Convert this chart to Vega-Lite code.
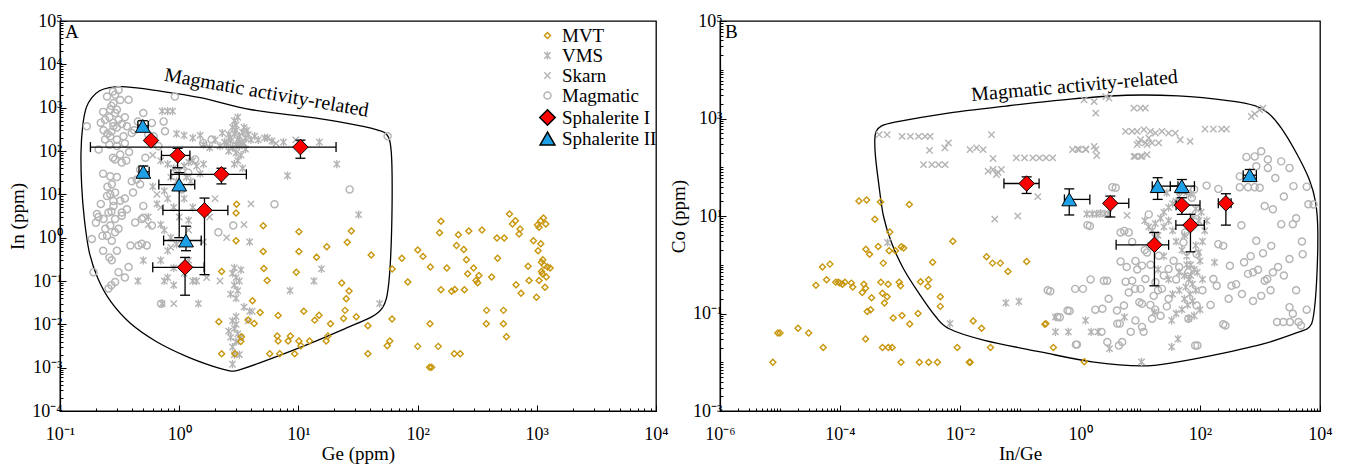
{
"$schema":"https://vega.github.io/schema/vega-lite/v6.json",
"background":"white",
"padding":{"left":8,"top":11,"right":4,"bottom":0},
"bounds":"flush",
"spacing":64,
"config":{
 "font":"Liberation Serif",
 "view":{"stroke":"black","strokeWidth":1.3},
 "axis":{"grid":false,"domainColor":"black","domainWidth":1.2,"tickColor":"black","tickWidth":1,"labelColor":"black","titleColor":"black","labelFont":"Liberation Serif","titleFont":"Liberation Serif","labelFontSize":18,"titleFontSize":19,"titleFontWeight":"normal","labelOverlap":false,"labelFlush":false,"labelBound":false}
},
"resolve":{"scale":{"shape":"independent","fill":"independent","stroke":"independent","size":"independent"}},
"datasets":{
"polyA":[{"o":1,"x":0.33,"y":3063},{"o":2,"x":0.26,"y":2900},{"o":3,"x":0.215,"y":2450},{"o":4,"x":0.185,"y":1700},{"o":5,"x":0.166,"y":1000},{"o":6,"x":0.155,"y":372},{"o":7,"x":0.15,"y":91},{"o":8,"x":0.152,"y":15.7},{"o":9,"x":0.16,"y":2.7},{"o":10,"x":0.176,"y":0.466},{"o":11,"x":0.208,"y":0.114},{"o":12,"x":0.267,"y":0.0333},{"o":13,"x":0.389,"y":0.0106},{"o":14,"x":0.641,"y":0.00403},{"o":15,"x":1.15,"y":0.00182},{"o":16,"x":1.9,"y":0.00108},{"o":17,"x":2.5,"y":0.00088},{"o":18,"x":2.81,"y":0.00083},{"o":19,"x":3.2,"y":0.00089},{"o":20,"x":4.74,"y":0.00129},{"o":21,"x":10.9,"y":0.0031},{"o":22,"x":25.1,"y":0.00815},{"o":23,"x":41.5,"y":0.0151},{"o":24,"x":50.3,"y":0.0234},{"o":25,"x":55.5,"y":0.0473},{"o":26,"x":58.9,"y":0.23},{"o":27,"x":60.9,"y":3.22},{"o":28,"x":60.9,"y":45},{"o":29,"x":58.9,"y":154},{"o":30,"x":54.6,"y":248},{"o":31,"x":47,"y":300},{"o":32,"x":35,"y":370},{"o":33,"x":15,"y":560},{"o":34,"x":4.05,"y":895},{"o":35,"x":1.5,"y":1700},{"o":36,"x":0.589,"y":2570},{"o":37,"x":0.42,"y":2900}],
"polyB":[{"o":1,"x":0.00038,"y":367},{"o":2,"x":0.0004,"y":543},{"o":3,"x":0.00048,"y":690},{"o":4,"x":0.00082,"y":840},{"o":5,"x":0.0053,"y":1250},{"o":6,"x":0.0585,"y":1800},{"o":7,"x":0.695,"y":2500},{"o":8,"x":5.94,"y":3000},{"o":9,"x":43.1,"y":2900},{"o":10,"x":313,"y":2300},{"o":11,"x":841,"y":1815},{"o":12,"x":1381,"y":1285},{"o":13,"x":2265,"y":635},{"o":14,"x":4036,"y":196},{"o":15,"x":6627,"y":56},{"o":16,"x":8480,"y":18.7},{"o":17,"x":9200,"y":4.57},{"o":18,"x":8760,"y":0.436},{"o":19,"x":7800,"y":0.091},{"o":20,"x":6627,"y":0.0526},{"o":21,"x":4385,"y":0.0416},{"o":22,"x":1170,"y":0.024},{"o":23,"x":224,"y":0.015},{"o":24,"x":43,"y":0.0102},{"o":25,"x":10.6,"y":0.0084},{"o":26,"x":1.59,"y":0.0102},{"o":27,"x":0.219,"y":0.0163},{"o":28,"x":0.0256,"y":0.0281},{"o":29,"x":0.0066,"y":0.0486},{"o":30,"x":0.0038,"y":0.091},{"o":31,"x":0.0021,"y":0.252},{"o":32,"x":0.00115,"y":0.817},{"o":33,"x":0.00072,"y":2.86},{"o":34,"x":0.00053,"y":10},{"o":35,"x":0.00044,"y":47.9},{"o":36,"x":0.00039,"y":167}],
"sA":[{"t":"Sphalerite I","x":0.58,"y":175},{"t":"Sphalerite I","x":0.97,"y":79,"xlo":0.71,"xhi":1.23,"ylo":41,"yhi":115},{"t":"Sphalerite I","x":10.4,"y":123,"xlo":0.18,"xhi":20.7,"ylo":68,"yhi":178},{"t":"Sphalerite I","x":2.26,"y":29,"xlo":0.85,"xhi":3.66,"ylo":17.4,"yhi":40},{"t":"Sphalerite I","x":1.63,"y":4.27,"xlo":0.73,"xhi":2.56,"ylo":0.14,"yhi":8.2},{"t":"Sphalerite I","x":1.12,"y":0.207,"xlo":0.6,"xhi":1.62,"ylo":0.047,"yhi":0.35},{"t":"Sphalerite II","x":0.495,"y":380,"xlo":0.45,"xhi":0.55,"ylo":300,"yhi":500},{"t":"Sphalerite II","x":0.5,"y":33,"xlo":0.46,"xhi":0.56,"ylo":26.6,"yhi":45},{"t":"Sphalerite II","x":1.0,"y":16.8,"xlo":0.675,"xhi":1.35,"ylo":1.0,"yhi":31.7},{"t":"Sphalerite II","x":1.14,"y":0.86,"xlo":0.74,"xhi":1.53,"ylo":0.5,"yhi":1.84}],
"sB":[{"t":"Sphalerite I","x":0.129,"y":46.4,"xlo":0.054,"xhi":0.208,"ylo":29,"yhi":63.5},{"t":"Sphalerite I","x":3.2,"y":18.2,"xlo":2.9,"xhi":6.5,"ylo":9.55,"yhi":25.6},{"t":"Sphalerite I","x":49.8,"y":16.7,"xlo":40,"xhi":100,"ylo":10.8,"yhi":23.7},{"t":"Sphalerite I","x":69.3,"y":6.5,"xlo":39.6,"xhi":118,"ylo":1.84,"yhi":10.8},{"t":"Sphalerite I","x":17.4,"y":2.56,"xlo":4.0,"xhi":30,"ylo":0.37,"yhi":4.6},{"t":"Sphalerite I","x":270,"y":18.2,"xlo":202,"xhi":330,"ylo":6.5,"yhi":28.6},{"t":"Sphalerite II","x":0.662,"y":21.9,"xlo":0.55,"xhi":1.46,"ylo":10.5,"yhi":36},{"t":"Sphalerite II","x":19.7,"y":41,"xlo":16,"xhi":43,"ylo":21.9,"yhi":61},{"t":"Sphalerite II","x":49.8,"y":41,"xlo":32,"xhi":80.8,"ylo":30,"yhi":56},{"t":"Sphalerite II","x":675,"y":68.7,"xlo":525,"xhi":870,"ylo":55,"yhi":90}],
"ptsA":[
{"t":"Magmatic","x":0.168,"y":371},{"t":"Magmatic","x":0.211,"y":108},{"t":"Magmatic","x":0.232,"y":300},{"t":"Magmatic","x":0.239,"y":525},{"t":"Magmatic","x":0.248,"y":1807},{"t":"Magmatic","x":0.278,"y":2355},{"t":"Magmatic","x":0.31,"y":2570},{"t":"Magmatic","x":0.281,"y":1275},{"t":"Magmatic","x":0.264,"y":895},{"t":"Magmatic","x":0.29,"y":751},{"t":"Magmatic","x":0.31,"y":525},{"t":"Magmatic","x":0.281,"y":371},{"t":"Magmatic","x":0.264,"y":218},{"t":"Magmatic","x":0.3,"y":184},{"t":"Magmatic","x":0.341,"y":218},{"t":"Magmatic","x":0.364,"y":371},{"t":"Magmatic","x":0.4,"y":261},{"t":"Magmatic","x":0.239,"y":184},{"t":"Magmatic","x":0.278,"y":70},{"t":"Magmatic","x":0.29,"y":64},{"t":"Magmatic","x":0.32,"y":83},{"t":"Magmatic","x":0.33,"y":54},{"t":"Magmatic","x":0.264,"y":26},{"t":"Magmatic","x":0.272,"y":17},{"t":"Magmatic","x":0.29,"y":11},{"t":"Magmatic","x":0.248,"y":9.2},{"t":"Magmatic","x":0.281,"y":5.4},{"t":"Magmatic","x":0.255,"y":3.8},{"t":"Magmatic","x":0.232,"y":2.7},{"t":"Magmatic","x":0.264,"y":1.9},{"t":"Magmatic","x":0.29,"y":1.33},{"t":"Magmatic","x":0.248,"y":1.11},{"t":"Magmatic","x":0.272,"y":0.85},{"t":"Magmatic","x":0.185,"y":0.93},{"t":"Magmatic","x":0.33,"y":3.2},{"t":"Magmatic","x":0.364,"y":4.5},{"t":"Magmatic","x":0.32,"y":7.1},{"t":"Magmatic","x":0.41,"y":11},{"t":"Magmatic","x":0.4,"y":20},{"t":"Magmatic","x":0.47,"y":17},{"t":"Magmatic","x":0.5,"y":2.9},{"t":"Magmatic","x":0.5,"y":5.4},{"t":"Magmatic","x":0.52,"y":70},{"t":"Magmatic","x":0.47,"y":37},{"t":"Magmatic","x":0.55,"y":240},{"t":"Magmatic","x":0.5,"y":751},{"t":"Magmatic","x":0.74,"y":482},{"t":"Magmatic","x":0.76,"y":284},{"t":"Magmatic","x":0.92,"y":1800},{"t":"Magmatic","x":0.376,"y":1517},{"t":"Magmatic","x":0.59,"y":1.9},{"t":"Magmatic","x":0.67,"y":129},{"t":"Magmatic","x":0.59,"y":444},{"t":"Magmatic","x":1.05,"y":13},{"t":"Magmatic","x":1.19,"y":31.6},{"t":"Magmatic","x":1.36,"y":64},{"t":"Magmatic","x":1.59,"y":154},{"t":"Magmatic","x":1.87,"y":184},{"t":"Magmatic","x":2.84,"y":1.9},{"t":"Magmatic","x":2.13,"y":1.33},{"t":"Magmatic","x":6.3,"y":5.9},{"t":"Magmatic","x":26.9,"y":13},{"t":"Magmatic","x":56,"y":218},{"t":"Magmatic","x":0.191,"y":0.16},{"t":"Magmatic","x":0.272,"y":0.3},{"t":"Magmatic","x":0.31,"y":0.16},{"t":"Magmatic","x":0.376,"y":0.21},{"t":"Magmatic","x":0.255,"y":0.067},{"t":"Magmatic","x":0.29,"y":0.095},{"t":"Magmatic","x":0.485,"y":0.72},{"t":"Magmatic","x":0.39,"y":0.66},{"t":"Magmatic","x":0.61,"y":218},{"t":"Magmatic","x":0.44,"y":22},{"t":"Magmatic","x":0.204,"y":3.5},{"t":"Magmatic","x":0.264,"y":10},{"t":"Magmatic","x":0.29,"y":2.7},{"t":"Magmatic","x":0.33,"y":3.8},{"t":"Magmatic","x":0.227,"y":1.1},{"t":"Magmatic","x":0.427,"y":2.25},{"t":"Magmatic","x":0.485,"y":2.7},{"t":"Magmatic","x":0.27,"y":0.08},{"t":"Magmatic","x":0.455,"y":0.66},{"t":"Magmatic","x":0.535,"y":0.66},{"t":"Magmatic","x":0.705,"y":0.03},{"t":"Magmatic","x":0.26,"y":600},{"t":"Magmatic","x":0.28,"y":450},{"t":"Magmatic","x":0.3,"y":350},{"t":"Magmatic","x":0.27,"y":280},{"t":"Magmatic","x":0.25,"y":250},{"t":"Magmatic","x":0.33,"y":420},{"t":"Magmatic","x":0.35,"y":600},{"t":"Magmatic","x":0.3,"y":900},{"t":"Magmatic","x":0.27,"y":1100},{"t":"Magmatic","x":0.32,"y":1500},{"t":"Magmatic","x":0.23,"y":800},{"t":"Magmatic","x":0.26,"y":140},{"t":"Magmatic","x":0.3,"y":130},{"t":"Magmatic","x":0.35,"y":150},{"t":"Magmatic","x":0.22,"y":450},{"t":"Magmatic","x":0.29,"y":2000},{"t":"Magmatic","x":0.45,"y":480},{"t":"Magmatic","x":0.42,"y":300},{"t":"Magmatic","x":0.38,"y":95},{"t":"Magmatic","x":0.36,"y":60},{"t":"Magmatic","x":0.23,"y":30},{"t":"Magmatic","x":0.25,"y":15},{"t":"Magmatic","x":0.3,"y":25},{"t":"Magmatic","x":0.35,"y":8},{"t":"Magmatic","x":0.22,"y":6},{"t":"Magmatic","x":0.27,"y":4},{"t":"Magmatic","x":0.31,"y":1.6},{"t":"Magmatic","x":0.23,"y":0.5},{"t":"Magmatic","x":0.26,"y":0.35},{"t":"Magmatic","x":0.3,"y":0.5},{"t":"Magmatic","x":0.35,"y":0.12},{"t":"Magmatic","x":0.24,"y":1.6},{"t":"Magmatic","x":0.2,"y":2.2},{"t":"Magmatic","x":0.21,"y":3},{"t":"Magmatic","x":0.28,"y":7},
{"t":"VMS","x":2.5,"y":150},{"t":"VMS","x":2.7,"y":200},{"t":"VMS","x":2.9,"y":250},{"t":"VMS","x":3.0,"y":300},{"t":"VMS","x":3.1,"y":180},{"t":"VMS","x":3.2,"y":220},{"t":"VMS","x":3.3,"y":160},{"t":"VMS","x":2.8,"y":120},{"t":"VMS","x":2.6,"y":100},{"t":"VMS","x":3.0,"y":90},{"t":"VMS","x":3.2,"y":130},{"t":"VMS","x":3.4,"y":270},{"t":"VMS","x":3.5,"y":350},{"t":"VMS","x":3.0,"y":400},{"t":"VMS","x":2.9,"y":500},{"t":"VMS","x":3.1,"y":600},{"t":"VMS","x":2.8,"y":350},{"t":"VMS","x":3.6,"y":200},{"t":"VMS","x":3.8,"y":240},{"t":"VMS","x":4.0,"y":180},{"t":"VMS","x":4.3,"y":220},{"t":"VMS","x":2.4,"y":160},{"t":"VMS","x":2.2,"y":130},{"t":"VMS","x":2.0,"y":180},{"t":"VMS","x":1.8,"y":120},{"t":"VMS","x":1.6,"y":140},{"t":"VMS","x":3.3,"y":80},{"t":"VMS","x":3.1,"y":60},{"t":"VMS","x":2.9,"y":50},{"t":"VMS","x":3.4,"y":40},{"t":"VMS","x":3.6,"y":110},{"t":"VMS","x":4.6,"y":180},{"t":"VMS","x":5.2,"y":200},{"t":"VMS","x":6.0,"y":170},{"t":"VMS","x":2.6,"y":240},{"t":"VMS","x":3.7,"y":300},{"t":"VMS","x":2.3,"y":260},{"t":"VMS","x":3.0,"y":140},{"t":"VMS","x":2.7,"y":170},{"t":"VMS","x":3.5,"y":150},
{"t":"VMS","x":0.7,"y":60},{"t":"VMS","x":0.8,"y":50},{"t":"VMS","x":0.9,"y":40},{"t":"VMS","x":1.0,"y":35},{"t":"VMS","x":1.1,"y":45},{"t":"VMS","x":1.2,"y":55},{"t":"VMS","x":0.85,"y":25},{"t":"VMS","x":0.95,"y":20},{"t":"VMS","x":1.05,"y":15},{"t":"VMS","x":1.15,"y":25},{"t":"VMS","x":0.75,"y":12},{"t":"VMS","x":0.8,"y":8},{"t":"VMS","x":0.9,"y":5},{"t":"VMS","x":1.0,"y":3},{"t":"VMS","x":0.7,"y":2},{"t":"VMS","x":0.75,"y":1.5},{"t":"VMS","x":0.85,"y":1.0},{"t":"VMS","x":0.95,"y":0.7},{"t":"VMS","x":0.8,"y":0.5},{"t":"VMS","x":0.7,"y":0.3},{"t":"VMS","x":0.9,"y":0.2},{"t":"VMS","x":0.8,"y":0.12},{"t":"VMS","x":0.75,"y":0.1},{"t":"VMS","x":1.3,"y":60},{"t":"VMS","x":1.4,"y":45},{"t":"VMS","x":1.5,"y":30},{"t":"VMS","x":1.25,"y":20},{"t":"VMS","x":1.6,"y":50},{"t":"VMS","x":1.1,"y":8},{"t":"VMS","x":1.3,"y":5},{"t":"VMS","x":0.65,"y":6},{"t":"VMS","x":0.6,"y":15},{"t":"VMS","x":1.2,"y":2.5},{"t":"VMS","x":1.1,"y":0.15},{"t":"VMS","x":1.3,"y":0.1},{"t":"VMS","x":1.4,"y":0.1},{"t":"VMS","x":1.2,"y":0.3},{"t":"VMS","x":0.9,"y":0.08},{"t":"VMS","x":0.72,"y":0.03},{"t":"VMS","x":1.45,"y":0.03},
{"t":"VMS","x":2.8,"y":0.15},{"t":"VMS","x":3.0,"y":0.12},{"t":"VMS","x":3.2,"y":0.1},{"t":"VMS","x":2.9,"y":0.08},{"t":"VMS","x":3.1,"y":0.06},{"t":"VMS","x":2.7,"y":0.05},{"t":"VMS","x":3.0,"y":0.04},{"t":"VMS","x":3.3,"y":0.18},{"t":"VMS","x":2.9,"y":0.2},{"t":"VMS","x":2.8,"y":0.012},{"t":"VMS","x":3.0,"y":0.01},{"t":"VMS","x":2.9,"y":0.008},{"t":"VMS","x":3.1,"y":0.006},{"t":"VMS","x":2.7,"y":0.005},{"t":"VMS","x":3.0,"y":0.004},{"t":"VMS","x":2.8,"y":0.003},{"t":"VMS","x":2.9,"y":0.002},{"t":"VMS","x":3.2,"y":0.002},{"t":"VMS","x":3.3,"y":0.005},{"t":"VMS","x":2.6,"y":0.007},{"t":"VMS","x":3.0,"y":0.015},{"t":"VMS","x":2.8,"y":0.0012},{"t":"VMS","x":3.5,"y":0.025},{"t":"VMS","x":3.9,"y":0.02},
{"t":"VMS","x":0.72,"y":830},{"t":"VMS","x":0.8,"y":830},{"t":"VMS","x":0.88,"y":830},{"t":"VMS","x":0.95,"y":250},{"t":"VMS","x":1.1,"y":230},{"t":"VMS","x":1.3,"y":200},{"t":"VMS","x":1.5,"y":230},{"t":"VMS","x":8.1,"y":27},{"t":"VMS","x":21,"y":50},{"t":"VMS","x":15,"y":160},{"t":"VMS","x":32,"y":3.4},{"t":"VMS","x":15.6,"y":0.19},{"t":"VMS","x":13.5,"y":0.1},{"t":"VMS","x":8.5,"y":0.06},{"t":"VMS","x":3.9,"y":0.8},{"t":"VMS","x":48,"y":0.03},{"t":"VMS","x":5.5,"y":200},{"t":"VMS","x":7.5,"y":160},{"t":"VMS","x":10.5,"y":150},{"t":"VMS","x":0.55,"y":3},{"t":"VMS","x":0.5,"y":0.3},{"t":"VMS","x":0.45,"y":0.1},
{"t":"Skarn","x":0.6,"y":80},{"t":"Skarn","x":0.65,"y":10},{"t":"Skarn","x":0.7,"y":5},{"t":"Skarn","x":0.55,"y":2},{"t":"Skarn","x":1.2,"y":1.5},{"t":"Skarn","x":1.6,"y":0.8},{"t":"Skarn","x":1.8,"y":3},{"t":"Skarn","x":2.0,"y":8},{"t":"Skarn","x":0.5,"y":40},{"t":"Skarn","x":4.0,"y":6},{"t":"Skarn","x":3.5,"y":2},{"t":"Skarn","x":4.1,"y":0.02},{"t":"Skarn","x":3.8,"y":0.012},{"t":"Skarn","x":1.1,"y":0.9},{"t":"Skarn","x":0.85,"y":0.6},{"t":"Skarn","x":2.2,"y":0.1},{"t":"Skarn","x":2.5,"y":1},{"t":"Skarn","x":0.9,"y":0.03},{"t":"Skarn","x":1.7,"y":0.12},{"t":"Skarn","x":6.5,"y":150},{"t":"Skarn","x":9.5,"y":180},
{"t":"MVT","x":3.03,"y":5.9},{"t":"MVT","x":3.0,"y":3.7},{"t":"MVT","x":5.07,"y":1.88},{"t":"MVT","x":10.1,"y":1.37},{"t":"MVT","x":3.0,"y":0.85},{"t":"MVT","x":5.07,"y":0.48},{"t":"MVT","x":10.1,"y":0.48},{"t":"MVT","x":27.8,"y":1.43},{"t":"MVT","x":25.7,"y":0.78},{"t":"MVT","x":17.3,"y":0.62},{"t":"MVT","x":14.2,"y":0.355},{"t":"MVT","x":40.8,"y":0.4},{"t":"MVT","x":5.13,"y":0.195},{"t":"MVT","x":9.6,"y":0.16},{"t":"MVT","x":2.27,"y":0.166},{"t":"MVT","x":5.47,"y":0.103},{"t":"MVT","x":23.1,"y":0.09},{"t":"MVT","x":26.6,"y":0.059},{"t":"MVT","x":25.2,"y":0.039},{"t":"MVT","x":24.6,"y":0.021},{"t":"MVT","x":23.9,"y":0.0137},{"t":"MVT","x":30.6,"y":0.0149},{"t":"MVT","x":4.12,"y":0.035},{"t":"MVT","x":4.78,"y":0.0188},{"t":"MVT","x":6.76,"y":0.016},{"t":"MVT","x":11.1,"y":0.02},{"t":"MVT","x":13.7,"y":0.0125},{"t":"MVT","x":14.9,"y":0.0163},{"t":"MVT","x":18.6,"y":0.0103},{"t":"MVT","x":2.15,"y":0.0115},{"t":"MVT","x":4.26,"y":0.0105},{"t":"MVT","x":3.79,"y":0.0126},{"t":"MVT","x":3.33,"y":0.0052},{"t":"MVT","x":3.29,"y":0.004},{"t":"MVT","x":6.64,"y":0.0054},{"t":"MVT","x":6.76,"y":0.0041},{"t":"MVT","x":8.57,"y":0.0054},{"t":"MVT","x":8.2,"y":0.0041},{"t":"MVT","x":10.1,"y":0.0041},{"t":"MVT","x":10.5,"y":0.0032},{"t":"MVT","x":12.4,"y":0.0041},{"t":"MVT","x":17.1,"y":0.0041},{"t":"MVT","x":17.7,"y":0.0054},{"t":"MVT","x":5.75,"y":0.0021},{"t":"MVT","x":6.98,"y":0.0021},{"t":"MVT","x":9.3,"y":0.0021},{"t":"MVT","x":2.27,"y":0.0021},{"t":"MVT","x":2.93,"y":0.0021},{"t":"MVT","x":61.2,"y":0.19},{"t":"MVT","x":61,"y":0.0132},{"t":"MVT","x":58.5,"y":0.0041},{"t":"MVT","x":55.6,"y":0.0032},{"t":"MVT","x":38.3,"y":0.0093},{"t":"MVT","x":38.3,"y":0.0021},{"t":"MVT","x":73.8,"y":0.337},{"t":"MVT","x":82.8,"y":0.095},{"t":"MVT","x":100.4,"y":0.52},{"t":"MVT","x":111,"y":0.37},{"t":"MVT","x":128,"y":0.21},{"t":"MVT","x":157,"y":2.38},{"t":"MVT","x":153,"y":1.3},{"t":"MVT","x":220,"y":1.17},{"t":"MVT","x":269,"y":1.43},{"t":"MVT","x":347,"y":1.5},{"t":"MVT","x":212,"y":0.66},{"t":"MVT","x":244,"y":0.53},{"t":"MVT","x":257,"y":0.31},{"t":"MVT","x":176,"y":0.2},{"t":"MVT","x":295,"y":0.2},{"t":"MVT","x":263,"y":0.147},{"t":"MVT","x":327,"y":0.134},{"t":"MVT","x":309,"y":0.103},{"t":"MVT","x":319,"y":0.091},{"t":"MVT","x":157,"y":0.063},{"t":"MVT","x":193,"y":0.058},{"t":"MVT","x":205,"y":0.064},{"t":"MVT","x":247,"y":0.063},{"t":"MVT","x":418,"y":0.123},{"t":"MVT","x":463,"y":0.98},{"t":"MVT","x":533,"y":0.98},{"t":"MVT","x":469,"y":0.336},{"t":"MVT","x":590,"y":3.5},{"t":"MVT","x":662,"y":2.46},{"t":"MVT","x":625,"y":2.06},{"t":"MVT","x":724,"y":1.58},{"t":"MVT","x":710,"y":1.22},{"t":"MVT","x":937,"y":0.85},{"t":"MVT","x":1025,"y":0.5},{"t":"MVT","x":1080,"y":0.72},{"t":"MVT","x":845,"y":0.22},{"t":"MVT","x":1095,"y":0.27},{"t":"MVT","x":1123,"y":0.31},{"t":"MVT","x":1152,"y":0.23},{"t":"MVT","x":1229,"y":0.21},{"t":"MVT","x":1294,"y":0.2},{"t":"MVT","x":1095,"y":0.166},{"t":"MVT","x":1045,"y":0.103},{"t":"MVT","x":861,"y":0.103},{"t":"MVT","x":670,"y":0.082},{"t":"MVT","x":738,"y":0.052},{"t":"MVT","x":1171,"y":0.072},{"t":"MVT","x":994,"y":0.042},{"t":"MVT","x":1045,"y":1.73},{"t":"MVT","x":1189,"y":2.06},{"t":"MVT","x":1080,"y":2.45},{"t":"MVT","x":1137,"y":2.83},{"t":"MVT","x":1013,"y":1.95},{"t":"MVT","x":1202,"y":0.123},{"t":"MVT","x":1114,"y":0.147},{"t":"MVT","x":379,"y":0.021},{"t":"MVT","x":525,"y":0.021},{"t":"MVT","x":377,"y":0.0103},{"t":"MVT","x":525,"y":0.0103},{"t":"MVT","x":556,"y":0.0052},{"t":"MVT","x":127,"y":0.0103},{"t":"MVT","x":100,"y":0.0031},{"t":"MVT","x":149,"y":0.0031},{"t":"MVT","x":203,"y":0.0021},{"t":"MVT","x":228,"y":0.0021},{"t":"MVT","x":126,"y":0.00102},{"t":"MVT","x":131,"y":0.00102}
],
"ptsB":[
{"t":"Magmatic","x":3.45,"y":39},{"t":"Magmatic","x":1.33,"y":6.5},{"t":"Magmatic","x":0.29,"y":0.3},{"t":"Magmatic","x":0.83,"y":0.32},{"t":"Magmatic","x":0.62,"y":0.115},{"t":"Magmatic","x":0.855,"y":0.023},{"t":"Magmatic","x":0.42,"y":0.085},{"t":"Magmatic","x":2.5,"y":0.47},{"t":"Magmatic","x":2.36,"y":0.125},{"t":"Magmatic","x":2.85,"y":0.026},{"t":"Magmatic","x":4.45,"y":0.022},{"t":"Magmatic","x":4.18,"y":0.062},{"t":"Magmatic","x":5.4,"y":0.146},{"t":"Magmatic","x":5.75,"y":0.45},{"t":"Magmatic","x":4.75,"y":1.17},{"t":"Magmatic","x":4.75,"y":4.6},{"t":"Magmatic","x":6.5,"y":4.6},{"t":"Magmatic","x":7.4,"y":2.94},{"t":"Magmatic","x":8.4,"y":1.2},{"t":"Magmatic","x":7.4,"y":0.47},{"t":"Magmatic","x":10.2,"y":0.32},{"t":"Magmatic","x":6.5,"y":0.27},{"t":"Magmatic","x":12.3,"y":0.51},{"t":"Magmatic","x":10.8,"y":0.96},{"t":"Magmatic","x":14,"y":10.8},{"t":"Magmatic","x":13.1,"y":1.79},{"t":"Magmatic","x":20.5,"y":1.53},{"t":"Magmatic","x":16.9,"y":0.23},{"t":"Magmatic","x":10.8,"y":0.158},{"t":"Magmatic","x":8.4,"y":0.072},{"t":"Magmatic","x":10.8,"y":0.053},{"t":"Magmatic","x":15.9,"y":0.078},{"t":"Magmatic","x":14.9,"y":0.15},{"t":"Magmatic","x":23.2,"y":0.32},{"t":"Magmatic","x":18.1,"y":0.44},{"t":"Magmatic","x":30,"y":0.82},{"t":"Magmatic","x":36.3,"y":1.21},{"t":"Magmatic","x":53,"y":2.87},{"t":"Magmatic","x":56.6,"y":4.6},{"t":"Magmatic","x":73,"y":23.8},{"t":"Magmatic","x":80,"y":35},{"t":"Magmatic","x":88,"y":8.6},{"t":"Magmatic","x":88,"y":1.66},{"t":"Magmatic","x":64,"y":0.7},{"t":"Magmatic","x":88,"y":0.146},{"t":"Magmatic","x":83,"y":0.022},{"t":"Magmatic","x":64,"y":0.078},{"t":"Magmatic","x":129,"y":42},{"t":"Magmatic","x":202,"y":36},{"t":"Magmatic","x":202,"y":2.64},{"t":"Magmatic","x":167,"y":0.51},{"t":"Magmatic","x":315,"y":0.95},{"t":"Magmatic","x":335,"y":0.37},{"t":"Magmatic","x":490,"y":6.45},{"t":"Magmatic","x":543,"y":1.12},{"t":"Magmatic","x":632,"y":0.65},{"t":"Magmatic","x":766,"y":0.7},{"t":"Magmatic","x":927,"y":0.79},{"t":"Magmatic","x":766,"y":0.18},{"t":"Magmatic","x":1047,"y":0.23},{"t":"Magmatic","x":1197,"y":0.47},{"t":"Magmatic","x":1321,"y":0.51},{"t":"Magmatic","x":1641,"y":0.7},{"t":"Magmatic","x":2500,"y":0.6},{"t":"Magmatic","x":867,"y":3.1},{"t":"Magmatic","x":1122,"y":1.73},{"t":"Magmatic","x":1538,"y":2.44},{"t":"Magmatic","x":1197,"y":16},{"t":"Magmatic","x":1641,"y":13.7},{"t":"Magmatic","x":2254,"y":6.8},{"t":"Magmatic","x":3525,"y":6.8},{"t":"Magmatic","x":3100,"y":1.31},{"t":"Magmatic","x":5150,"y":1.65},{"t":"Magmatic","x":6400,"y":17.4},{"t":"Magmatic","x":3610,"y":41},{"t":"Magmatic","x":3100,"y":97},{"t":"Magmatic","x":2254,"y":132},{"t":"Magmatic","x":1352,"y":144},{"t":"Magmatic","x":1047,"y":212},{"t":"Magmatic","x":817,"y":167},{"t":"Magmatic","x":594,"y":163},{"t":"Magmatic","x":867,"y":105},{"t":"Magmatic","x":1352,"y":97},{"t":"Magmatic","x":460,"y":65},{"t":"Magmatic","x":460,"y":39},{"t":"Magmatic","x":632,"y":39},{"t":"Magmatic","x":817,"y":39},{"t":"Magmatic","x":988,"y":38},{"t":"Magmatic","x":3100,"y":0.135},{"t":"Magmatic","x":3525,"y":0.099},{"t":"Magmatic","x":1920,"y":0.067},{"t":"Magmatic","x":2460,"y":0.067},{"t":"Magmatic","x":3150,"y":0.067},{"t":"Magmatic","x":4385,"y":0.067},{"t":"Magmatic","x":4820,"y":0.057},{"t":"Magmatic","x":244,"y":0.06},{"t":"Magmatic","x":0.32,"y":0.286},{"t":"Magmatic","x":1.12,"y":0.32},{"t":"Magmatic","x":0.67,"y":0.112},{"t":"Magmatic","x":0.46,"y":0.084},{"t":"Magmatic","x":0.89,"y":0.023},{"t":"Magmatic","x":2.28,"y":0.042},{"t":"Magmatic","x":2.83,"y":0.47},{"t":"Magmatic","x":4.13,"y":0.115},{"t":"Magmatic","x":5.04,"y":0.026},{"t":"Magmatic","x":4.6,"y":0.062},{"t":"Magmatic","x":5.47,"y":4.94},{"t":"Magmatic","x":3.94,"y":37.8},{"t":"Magmatic","x":1.46,"y":6.25},{"t":"Magmatic","x":8.28,"y":0.32},{"t":"Magmatic","x":9.76,"y":0.17},{"t":"Magmatic","x":11.5,"y":0.042},{"t":"Magmatic","x":7.0,"y":0.042},{"t":"Magmatic","x":265,"y":0.057},{"t":"Magmatic","x":90.6,"y":0.022},{"t":"Magmatic","x":190,"y":0.37},{"t":"Magmatic","x":244,"y":2.44},{"t":"Magmatic","x":7800,"y":17.3},{"t":"Magmatic","x":20,"y":0.3},{"t":"Magmatic","x":25,"y":0.6},{"t":"Magmatic","x":30,"y":0.2},{"t":"Magmatic","x":40,"y":0.5},{"t":"Magmatic","x":45,"y":0.9},{"t":"Magmatic","x":12,"y":2.0},{"t":"Magmatic","x":15,"y":1.0},{"t":"Magmatic","x":9,"y":0.8},{"t":"Magmatic","x":6,"y":0.9},{"t":"Magmatic","x":18,"y":0.12},{"t":"Magmatic","x":22,"y":0.09},{"t":"Magmatic","x":28,"y":0.14},{"t":"Magmatic","x":3,"y":0.2},{"t":"Magmatic","x":1.8,"y":0.12},{"t":"Magmatic","x":1.5,"y":0.5},{"t":"Magmatic","x":110,"y":0.3},{"t":"Magmatic","x":150,"y":0.15},{"t":"Magmatic","x":300,"y":0.2},{"t":"Magmatic","x":400,"y":0.4},{"t":"Magmatic","x":500,"y":0.25},{"t":"Magmatic","x":700,"y":1.5},{"t":"Magmatic","x":1500,"y":0.3},{"t":"Magmatic","x":2000,"y":0.9},{"t":"Magmatic","x":4000,"y":0.3},{"t":"Magmatic","x":6000,"y":0.12},{"t":"Magmatic","x":5000,"y":3},{"t":"Magmatic","x":4000,"y":9},{"t":"Magmatic","x":2500,"y":25},{"t":"Magmatic","x":1800,"y":60},{"t":"Magmatic","x":6000,"y":40},
{"t":"Skarn","x":0.00045,"y":465},{"t":"Skarn","x":0.00061,"y":465},{"t":"Skarn","x":0.00108,"y":430},{"t":"Skarn","x":0.00149,"y":430},{"t":"Skarn","x":0.00204,"y":430},{"t":"Skarn","x":0.00263,"y":430},{"t":"Skarn","x":0.00318,"y":430},{"t":"Skarn","x":0.0031,"y":222},{"t":"Skarn","x":0.0064,"y":315},{"t":"Skarn","x":0.0056,"y":249},{"t":"Skarn","x":0.00247,"y":113},{"t":"Skarn","x":0.0034,"y":113},{"t":"Skarn","x":0.0044,"y":113},{"t":"Skarn","x":0.00565,"y":113},{"t":"Skarn","x":0.0147,"y":230},{"t":"Skarn","x":0.0189,"y":249},{"t":"Skarn","x":0.0243,"y":230},{"t":"Skarn","x":0.0335,"y":465},{"t":"Skarn","x":0.0356,"y":151},{"t":"Skarn","x":0.0294,"y":83},{"t":"Skarn","x":0.0356,"y":90},{"t":"Skarn","x":0.043,"y":79},{"t":"Skarn","x":0.049,"y":90},{"t":"Skarn","x":0.0406,"y":71},{"t":"Skarn","x":0.087,"y":156},{"t":"Skarn","x":0.119,"y":156},{"t":"Skarn","x":0.164,"y":156},{"t":"Skarn","x":0.211,"y":156},{"t":"Skarn","x":0.272,"y":156},{"t":"Skarn","x":0.351,"y":156},{"t":"Skarn","x":0.75,"y":230},{"t":"Skarn","x":0.97,"y":230},{"t":"Skarn","x":1.25,"y":230},{"t":"Skarn","x":1.72,"y":269},{"t":"Skarn","x":1.9,"y":173},{"t":"Skarn","x":1.17,"y":2410},{"t":"Skarn","x":1.72,"y":2222},{"t":"Skarn","x":2.69,"y":2810},{"t":"Skarn","x":3.05,"y":2607},{"t":"Skarn","x":1.83,"y":1290},{"t":"Skarn","x":7.9,"y":1630},{"t":"Skarn","x":10.2,"y":1630},{"t":"Skarn","x":12.3,"y":1630},{"t":"Skarn","x":5.75,"y":543},{"t":"Skarn","x":7.4,"y":543},{"t":"Skarn","x":8.95,"y":543},{"t":"Skarn","x":11.6,"y":590},{"t":"Skarn","x":14.9,"y":543},{"t":"Skarn","x":18.1,"y":500},{"t":"Skarn","x":23.2,"y":543},{"t":"Skarn","x":30,"y":500},{"t":"Skarn","x":38.7,"y":500},{"t":"Skarn","x":9.5,"y":315},{"t":"Skarn","x":12.3,"y":315},{"t":"Skarn","x":15.9,"y":315},{"t":"Skarn","x":20.5,"y":315},{"t":"Skarn","x":7.9,"y":167},{"t":"Skarn","x":10.2,"y":167},{"t":"Skarn","x":13.1,"y":182},{"t":"Skarn","x":46.8,"y":367},{"t":"Skarn","x":68.5,"y":340},{"t":"Skarn","x":121,"y":608},{"t":"Skarn","x":167,"y":608},{"t":"Skarn","x":229,"y":608},{"t":"Skarn","x":277,"y":608},{"t":"Skarn","x":718,"y":1099},{"t":"Skarn","x":817,"y":1248},{"t":"Skarn","x":988,"y":1507},{"t":"Skarn","x":1122,"y":1630},{"t":"Skarn","x":1.83,"y":230},{"t":"Skarn","x":1.25,"y":237},{"t":"Skarn","x":0.91,"y":237},{"t":"Skarn","x":8.4,"y":167},{"t":"Skarn","x":10.8,"y":167},{"t":"Skarn","x":8.95,"y":290},{"t":"Skarn","x":13.1,"y":290},{"t":"Skarn","x":10.2,"y":367},{"t":"Skarn","x":14,"y":398},{"t":"Skarn","x":0.092,"y":10},{"t":"Skarn","x":0.038,"y":8.6},{"t":"Skarn","x":0.198,"y":24.9},{"t":"Skarn","x":6.1,"y":10.3},
{"t":"VMS","x":12,"y":8},{"t":"VMS","x":14,"y":6},{"t":"VMS","x":16,"y":5},{"t":"VMS","x":18,"y":7},{"t":"VMS","x":20,"y":4},{"t":"VMS","x":25,"y":6},{"t":"VMS","x":30,"y":8},{"t":"VMS","x":35,"y":5},{"t":"VMS","x":40,"y":3},{"t":"VMS","x":50,"y":2},{"t":"VMS","x":60,"y":1.5},{"t":"VMS","x":70,"y":1},{"t":"VMS","x":80,"y":0.8},{"t":"VMS","x":55,"y":0.6},{"t":"VMS","x":65,"y":0.5},{"t":"VMS","x":75,"y":0.4},{"t":"VMS","x":45,"y":0.3},{"t":"VMS","x":58,"y":0.35},{"t":"VMS","x":68,"y":0.25},{"t":"VMS","x":90,"y":0.7},{"t":"VMS","x":100,"y":1.2},{"t":"VMS","x":110,"y":3},{"t":"VMS","x":120,"y":5},{"t":"VMS","x":130,"y":8},{"t":"VMS","x":30,"y":15},{"t":"VMS","x":35,"y":18},{"t":"VMS","x":40,"y":20},{"t":"VMS","x":45,"y":25},{"t":"VMS","x":28,"y":30},{"t":"VMS","x":60,"y":30},{"t":"VMS","x":70,"y":28},{"t":"VMS","x":25,"y":12},{"t":"VMS","x":22,"y":9},{"t":"VMS","x":18,"y":3.5},{"t":"VMS","x":85,"y":2.5},{"t":"VMS","x":95,"y":1.8},{"t":"VMS","x":75,"y":0.18},{"t":"VMS","x":62,"y":0.15},{"t":"VMS","x":50,"y":0.12},{"t":"VMS","x":40,"y":0.1},{"t":"VMS","x":1.3,"y":11},{"t":"VMS","x":1.6,"y":11},{"t":"VMS","x":1.9,"y":11},{"t":"VMS","x":2.2,"y":11.5},{"t":"VMS","x":2.6,"y":11},{"t":"VMS","x":3.0,"y":11},{"t":"VMS","x":2.0,"y":0.042},{"t":"VMS","x":3.1,"y":0.019},{"t":"VMS","x":5.5,"y":0.084},{"t":"VMS","x":10.6,"y":0.0102},{"t":"VMS","x":17.4,"y":0.106},{"t":"VMS","x":33.7,"y":0.072},{"t":"VMS","x":33.7,"y":0.0206},{"t":"VMS","x":43,"y":0.03},{"t":"VMS","x":175,"y":1.12},{"t":"VMS","x":0.39,"y":0.084},{"t":"VMS","x":0.39,"y":0.042},{"t":"VMS","x":0.64,"y":0.042},{"t":"VMS","x":1.53,"y":0.042},{"t":"VMS","x":1.24,"y":0.072},{"t":"VMS","x":0.058,"y":0.165},{"t":"VMS","x":0.096,"y":0.176},{"t":"VMS","x":0.0068,"y":0.062},{"t":"VMS","x":0.00062,"y":2.86},{"t":"VMS","x":60,"y":1.0},{"t":"VMS","x":70,"y":0.6},{"t":"VMS","x":85,"y":0.3},{"t":"VMS","x":100,"y":0.12},{"t":"VMS","x":55,"y":0.2},{"t":"VMS","x":65,"y":0.08},{"t":"VMS","x":80,"y":0.09},{"t":"VMS","x":110,"y":0.5},{"t":"VMS","x":30,"y":0.5},{"t":"VMS","x":20,"y":0.8},{"t":"VMS","x":25,"y":1.5},{"t":"VMS","x":15,"y":2.5},{"t":"VMS","x":35,"y":0.25},{"t":"VMS","x":45,"y":0.7},{"t":"VMS","x":55,"y":4},{"t":"VMS","x":65,"y":6},{"t":"VMS","x":75,"y":10},{"t":"VMS","x":85,"y":14},{"t":"VMS","x":95,"y":8},{"t":"VMS","x":105,"y":12},
{"t":"MVT","x":0.000207,"y":20.2},{"t":"MVT","x":0.000278,"y":21.2},{"t":"MVT","x":0.000473,"y":19.3},{"t":"MVT","x":0.00143,"y":17.3},{"t":"MVT","x":0.000381,"y":8.6},{"t":"MVT","x":0.000675,"y":4.7},{"t":"MVT","x":0.000434,"y":2.38},{"t":"MVT","x":0.00066,"y":1.93},{"t":"MVT","x":0.00084,"y":1.93},{"t":"MVT","x":0.00105,"y":2.33},{"t":"MVT","x":0.00115,"y":2.2},{"t":"MVT","x":0.00027,"y":2.09},{"t":"MVT","x":0.000311,"y":1.65},{"t":"MVT","x":0.000525,"y":1.08},{"t":"MVT","x":0.000051,"y":0.9},{"t":"MVT","x":0.000068,"y":1.03},{"t":"MVT","x":0.0000597,"y":0.49},{"t":"MVT","x":0.0000397,"y":0.38},{"t":"MVT","x":0.000094,"y":0.44},{"t":"MVT","x":0.000121,"y":0.44},{"t":"MVT","x":0.000155,"y":0.42},{"t":"MVT","x":0.000163,"y":0.35},{"t":"MVT","x":0.00025,"y":0.4},{"t":"MVT","x":0.000267,"y":0.33},{"t":"MVT","x":0.000235,"y":0.27},{"t":"MVT","x":0.000336,"y":0.21},{"t":"MVT","x":0.00048,"y":0.44},{"t":"MVT","x":0.000635,"y":0.4},{"t":"MVT","x":0.00051,"y":0.26},{"t":"MVT","x":0.00061,"y":0.22},{"t":"MVT","x":0.00055,"y":0.165},{"t":"MVT","x":0.000285,"y":0.11},{"t":"MVT","x":0.000324,"y":0.12},{"t":"MVT","x":0.00077,"y":0.081},{"t":"MVT","x":0.00108,"y":0.091},{"t":"MVT","x":0.00097,"y":0.44},{"t":"MVT","x":0.00102,"y":0.37},{"t":"MVT","x":0.00145,"y":0.061},{"t":"MVT","x":0.002,"y":0.1},{"t":"MVT","x":0.0022,"y":0.45},{"t":"MVT","x":0.003,"y":0.49},{"t":"MVT","x":0.0029,"y":0.36},{"t":"MVT","x":0.0035,"y":1.12},{"t":"MVT","x":0.0076,"y":3.05},{"t":"MVT","x":0.0047,"y":0.22},{"t":"MVT","x":0.0047,"y":0.14},{"t":"MVT","x":0.0166,"y":0.07},{"t":"MVT","x":0.0229,"y":0.05},{"t":"MVT","x":0.0277,"y":1.46},{"t":"MVT","x":0.0348,"y":1.08},{"t":"MVT","x":0.047,"y":1.08},{"t":"MVT","x":0.063,"y":0.73},{"t":"MVT","x":0.129,"y":1.17},{"t":"MVT","x":0.0000092,"y":0.04},{"t":"MVT","x":0.00001,"y":0.04},{"t":"MVT","x":0.00002,"y":0.05},{"t":"MVT","x":0.00003,"y":0.04},{"t":"MVT","x":0.0000525,"y":0.02},{"t":"MVT","x":0.0000076,"y":0.01},{"t":"MVT","x":0.000267,"y":0.03},{"t":"MVT","x":0.00051,"y":0.02},{"t":"MVT","x":0.00064,"y":0.02},{"t":"MVT","x":0.00074,"y":0.02},{"t":"MVT","x":0.00104,"y":0.01},{"t":"MVT","x":0.0021,"y":0.01},{"t":"MVT","x":0.003,"y":0.01},{"t":"MVT","x":0.0042,"y":0.01},{"t":"MVT","x":0.009,"y":0.02},{"t":"MVT","x":0.0143,"y":0.01},{"t":"MVT","x":0.0148,"y":0.01},{"t":"MVT","x":0.0322,"y":0.02},{"t":"MVT","x":0.27,"y":0.062},{"t":"MVT","x":0.26,"y":0.06},{"t":"MVT","x":0.36,"y":0.02},{"t":"MVT","x":1.18,"y":0.0102},{"t":"MVT","x":0.000085,"y":0.44},{"t":"MVT","x":0.0001,"y":0.42},{"t":"MVT","x":0.00011,"y":0.4}
]
},
"hconcat":[
{
"width":596,"height":390,
"resolve":{"axis":{"x":"independent","y":"independent"}},
"layer":[
{"data":{"name":"polyA"},"mark":{"type":"line","interpolate":"cardinal-closed","color":"black","strokeWidth":1.3},
 "encoding":{
  "x":{"field":"x","type":"quantitative","scale":{"type":"log","domain":[0.1,10000],"nice":false},"axis":{"orient":"bottom","title":"Ge (ppm)","values":[0.1,1,10,100,1000,10000],"labelExpr":"'10' + (round(log(datum.value)/LN10) < 0 ? '⁻' : '') + ['⁰','¹','²','³','⁴','⁵','⁶'][abs(round(log(datum.value)/LN10))]","tickSize":-6,"labelPadding":20,"titlePadding":1}},
  "y":{"field":"y","type":"quantitative","scale":{"type":"log","domain":[0.0001,100000],"nice":false},"axis":{"orient":"left","title":"In (ppm)","values":[0.0001,0.001,0.01,0.1,1,10,100,1000,10000,100000],"labelExpr":"'10' + (round(log(datum.value)/LN10) < 0 ? '⁻' : '') + ['⁰','¹','²','³','⁴','⁵','⁶'][abs(round(log(datum.value)/LN10))]","tickSize":-6,"labelPadding":4,"titlePadding":4}},
  "order":{"field":"o","type":"quantitative"}}},
{"data":{"name":"ptsA"},"mark":{"type":"point","strokeWidth":1.4,"opacity":1},
 "encoding":{
  "x":{"field":"x","type":"quantitative","scale":{"type":"log","domain":[0.1,10000],"nice":false},"axis":{"orient":"bottom","tickCount":50,"labels":false,"title":null,"domain":false,"tickSize":-3}},
  "y":{"field":"y","type":"quantitative","scale":{"type":"log","domain":[0.0001,100000],"nice":false},"axis":{"orient":"left","tickCount":50,"labels":false,"title":null,"domain":false,"tickSize":-3}},
  "shape":{"field":"t","type":"nominal","scale":{"domain":["MVT","VMS","Skarn","Magmatic","Sphalerite I","Sphalerite II"],"range":["diamond","M-1,-1L1,1M-1,1L1,-1M0,-1.3L0,1.3","M-1,-1L1,1M-1,1L1,-1","circle","diamond","triangle-up"]},"legend":{"title":null,"orient":"none","legendX":478,"legendY":5,"labelFontSize":19,"labelFont":"Liberation Serif","labelColor":"black","symbolStrokeWidth":1.5,"rowPadding":0,"labelOffset":5,"padding":0}},
  "fill":{"field":"t","type":"nominal","scale":{"domain":["MVT","VMS","Skarn","Magmatic","Sphalerite I","Sphalerite II"],"range":["transparent","transparent","transparent","transparent","#ff0000","#1ea0e6"]},"legend":{"title":null,"orient":"none","legendX":478,"legendY":5,"labelFontSize":19,"labelFont":"Liberation Serif","labelColor":"black","symbolStrokeWidth":1.5,"rowPadding":0,"labelOffset":5,"padding":0}},
  "stroke":{"field":"t","type":"nominal","scale":{"domain":["MVT","VMS","Skarn","Magmatic","Sphalerite I","Sphalerite II"],"range":["#c8960a","#b4b4b4","#b4b4b4","#b4b4b4","#000000","#000000"]},"legend":{"title":null,"orient":"none","legendX":478,"legendY":5,"labelFontSize":19,"labelFont":"Liberation Serif","labelColor":"black","symbolStrokeWidth":1.5,"rowPadding":0,"labelOffset":5,"padding":0}},
  "size":{"field":"t","type":"nominal","scale":{"type":"ordinal","domain":["MVT","VMS","Skarn","Magmatic","Sphalerite I","Sphalerite II"],"range":[36,40,40,50,240,220]},"legend":{"title":null,"orient":"none","legendX":478,"legendY":5,"labelFontSize":19,"labelFont":"Liberation Serif","labelColor":"black","symbolStrokeWidth":1.5,"rowPadding":0,"labelOffset":5,"padding":0}}}},
{"data":{"name":"sA"},"transform":[{"filter":"isValid(datum.xlo)"}],"mark":{"type":"rule","color":"black","strokeWidth":1.3},
 "encoding":{"x":{"field":"xlo","type":"quantitative","scale":{"type":"log","domain":[0.1,10000],"nice":false},"axis":null},"x2":{"field":"xhi"},"y":{"field":"y","type":"quantitative","scale":{"type":"log","domain":[0.0001,100000],"nice":false},"axis":null}}},
{"data":{"name":"sA"},"transform":[{"filter":"isValid(datum.ylo)"}],"mark":{"type":"rule","color":"black","strokeWidth":1.3},
 "encoding":{"x":{"field":"x","type":"quantitative","scale":{"type":"log","domain":[0.1,10000],"nice":false},"axis":null},"y":{"field":"ylo","type":"quantitative","scale":{"type":"log","domain":[0.0001,100000],"nice":false},"axis":null},"y2":{"field":"yhi"}}},
{"data":{"name":"sA"},"transform":[{"fold":["xlo","xhi"],"as":["k","v"]},{"filter":"isValid(datum.v)"}],"mark":{"type":"tick","orient":"vertical","size":10,"thickness":1.3,"color":"black","opacity":1},
 "encoding":{"x":{"field":"v","type":"quantitative","scale":{"type":"log","domain":[0.1,10000],"nice":false},"axis":null},"y":{"field":"y","type":"quantitative","scale":{"type":"log","domain":[0.0001,100000],"nice":false},"axis":null}}},
{"data":{"name":"sA"},"transform":[{"fold":["ylo","yhi"],"as":["k","v"]},{"filter":"isValid(datum.v)"}],"mark":{"type":"tick","orient":"horizontal","size":10,"thickness":1.3,"color":"black","opacity":1},
 "encoding":{"x":{"field":"x","type":"quantitative","scale":{"type":"log","domain":[0.1,10000],"nice":false},"axis":null},"y":{"field":"v","type":"quantitative","scale":{"type":"log","domain":[0.0001,100000],"nice":false},"axis":null}}},
{"data":{"name":"sA"},"mark":{"type":"point","strokeWidth":1,"opacity":1},
 "encoding":{
  "x":{"field":"x","type":"quantitative","scale":{"type":"log","domain":[0.1,10000],"nice":false},"axis":null},
  "y":{"field":"y","type":"quantitative","scale":{"type":"log","domain":[0.0001,100000],"nice":false},"axis":null},
  "shape":{"field":"t","type":"nominal","scale":{"domain":["MVT","VMS","Skarn","Magmatic","Sphalerite I","Sphalerite II"],"range":["diamond","M-1,-1L1,1M-1,1L1,-1M0,-1.3L0,1.3","M-1,-1L1,1M-1,1L1,-1","circle","diamond","triangle-up"]}},
  "fill":{"field":"t","type":"nominal","scale":{"domain":["MVT","VMS","Skarn","Magmatic","Sphalerite I","Sphalerite II"],"range":["transparent","transparent","transparent","transparent","#ff0000","#1ea0e6"]}},
  "stroke":{"field":"t","type":"nominal","scale":{"domain":["MVT","VMS","Skarn","Magmatic","Sphalerite I","Sphalerite II"],"range":["#c8960a","#b4b4b4","#b4b4b4","#b4b4b4","#000000","#000000"]}},
  "size":{"field":"t","type":"nominal","scale":{"type":"ordinal","domain":["MVT","VMS","Skarn","Magmatic","Sphalerite I","Sphalerite II"],"range":[36,40,40,50,240,220]}}}},
{"data":{"values":[{"x":5.4,"y":2200,"s":"Magmatic activity-related"}]},"mark":{"type":"text","font":"Liberation Serif","fontSize":20,"angle":10,"align":"center","baseline":"middle","color":"black"},
 "encoding":{"x":{"field":"x","type":"quantitative","scale":{"type":"log","domain":[0.1,10000],"nice":false},"axis":null},"y":{"field":"y","type":"quantitative","scale":{"type":"log","domain":[0.0001,100000],"nice":false},"axis":null},"text":{"field":"s"}}},
{"data":{"values":[{"x":0.1,"y":100000,"s":"A"}]},"mark":{"type":"text","font":"Liberation Serif","fontSize":19,"align":"left","baseline":"top","dx":5,"dy":2,"color":"black"},
 "encoding":{"x":{"field":"x","type":"quantitative","scale":{"type":"log","domain":[0.1,10000],"nice":false},"axis":null},"y":{"field":"y","type":"quantitative","scale":{"type":"log","domain":[0.0001,100000],"nice":false},"axis":null},"text":{"field":"s"}}}
]
},
{
"width":600,"height":390,
"resolve":{"axis":{"x":"independent","y":"independent"}},
"layer":[
{"data":{"name":"polyB"},"mark":{"type":"line","interpolate":"cardinal-closed","color":"black","strokeWidth":1.3},
 "encoding":{
  "x":{"field":"x","type":"quantitative","scale":{"type":"log","domain":[0.000001,10000],"nice":false},"axis":{"orient":"bottom","title":"In/Ge","values":[0.000001,0.0001,0.01,1,100,10000],"labelExpr":"'10' + (round(log(datum.value)/LN10) < 0 ? '⁻' : '') + ['⁰','¹','²','³','⁴','⁵','⁶'][abs(round(log(datum.value)/LN10))]","tickSize":-6,"labelPadding":20,"titlePadding":1}},
  "y":{"field":"y","type":"quantitative","scale":{"type":"log","domain":[0.001,100000],"nice":false},"axis":{"orient":"left","title":"Co (ppm)","values":[0.001,0.1,10,1000,100000],"labelExpr":"'10' + (round(log(datum.value)/LN10) < 0 ? '⁻' : '') + ['⁰','¹','²','³','⁴','⁵','⁶'][abs(round(log(datum.value)/LN10))]","tickSize":-6,"labelPadding":4,"titlePadding":4}},
  "order":{"field":"o","type":"quantitative"}}},
{"data":{"name":"ptsB"},"mark":{"type":"point","strokeWidth":1.4,"opacity":1},
 "encoding":{
  "x":{"field":"x","type":"quantitative","scale":{"type":"log","domain":[0.000001,10000],"nice":false},"axis":{"orient":"bottom","tickCount":50,"labels":false,"title":null,"domain":false,"tickSize":-3}},
  "y":{"field":"y","type":"quantitative","scale":{"type":"log","domain":[0.001,100000],"nice":false},"axis":{"orient":"left","tickCount":50,"labels":false,"title":null,"domain":false,"tickSize":-3}},
  "shape":{"field":"t","type":"nominal","scale":{"domain":["MVT","VMS","Skarn","Magmatic","Sphalerite I","Sphalerite II"],"range":["diamond","M-1,-1L1,1M-1,1L1,-1M0,-1.3L0,1.3","M-1,-1L1,1M-1,1L1,-1","circle","diamond","triangle-up"]},"legend":null},
  "fill":{"field":"t","type":"nominal","scale":{"domain":["MVT","VMS","Skarn","Magmatic","Sphalerite I","Sphalerite II"],"range":["transparent","transparent","transparent","transparent","#ff0000","#1ea0e6"]},"legend":null},
  "stroke":{"field":"t","type":"nominal","scale":{"domain":["MVT","VMS","Skarn","Magmatic","Sphalerite I","Sphalerite II"],"range":["#c8960a","#b4b4b4","#b4b4b4","#b4b4b4","#000000","#000000"]},"legend":null},
  "size":{"field":"t","type":"nominal","scale":{"type":"ordinal","domain":["MVT","VMS","Skarn","Magmatic","Sphalerite I","Sphalerite II"],"range":[36,40,40,50,240,220]},"legend":null}}},
{"data":{"name":"sB"},"transform":[{"filter":"isValid(datum.xlo)"}],"mark":{"type":"rule","color":"black","strokeWidth":1.3},
 "encoding":{"x":{"field":"xlo","type":"quantitative","scale":{"type":"log","domain":[0.000001,10000],"nice":false},"axis":null},"x2":{"field":"xhi"},"y":{"field":"y","type":"quantitative","scale":{"type":"log","domain":[0.001,100000],"nice":false},"axis":null}}},
{"data":{"name":"sB"},"transform":[{"filter":"isValid(datum.ylo)"}],"mark":{"type":"rule","color":"black","strokeWidth":1.3},
 "encoding":{"x":{"field":"x","type":"quantitative","scale":{"type":"log","domain":[0.000001,10000],"nice":false},"axis":null},"y":{"field":"ylo","type":"quantitative","scale":{"type":"log","domain":[0.001,100000],"nice":false},"axis":null},"y2":{"field":"yhi"}}},
{"data":{"name":"sB"},"transform":[{"fold":["xlo","xhi"],"as":["k","v"]},{"filter":"isValid(datum.v)"}],"mark":{"type":"tick","orient":"vertical","size":10,"thickness":1.3,"color":"black","opacity":1},
 "encoding":{"x":{"field":"v","type":"quantitative","scale":{"type":"log","domain":[0.000001,10000],"nice":false},"axis":null},"y":{"field":"y","type":"quantitative","scale":{"type":"log","domain":[0.001,100000],"nice":false},"axis":null}}},
{"data":{"name":"sB"},"transform":[{"fold":["ylo","yhi"],"as":["k","v"]},{"filter":"isValid(datum.v)"}],"mark":{"type":"tick","orient":"horizontal","size":10,"thickness":1.3,"color":"black","opacity":1},
 "encoding":{"x":{"field":"x","type":"quantitative","scale":{"type":"log","domain":[0.000001,10000],"nice":false},"axis":null},"y":{"field":"v","type":"quantitative","scale":{"type":"log","domain":[0.001,100000],"nice":false},"axis":null}}},
{"data":{"name":"sB"},"mark":{"type":"point","strokeWidth":1,"opacity":1},
 "encoding":{
  "x":{"field":"x","type":"quantitative","scale":{"type":"log","domain":[0.000001,10000],"nice":false},"axis":null},
  "y":{"field":"y","type":"quantitative","scale":{"type":"log","domain":[0.001,100000],"nice":false},"axis":null},
  "shape":{"field":"t","type":"nominal","scale":{"domain":["MVT","VMS","Skarn","Magmatic","Sphalerite I","Sphalerite II"],"range":["diamond","M-1,-1L1,1M-1,1L1,-1M0,-1.3L0,1.3","M-1,-1L1,1M-1,1L1,-1","circle","diamond","triangle-up"]},"legend":null},
  "fill":{"field":"t","type":"nominal","scale":{"domain":["MVT","VMS","Skarn","Magmatic","Sphalerite I","Sphalerite II"],"range":["transparent","transparent","transparent","transparent","#ff0000","#1ea0e6"]},"legend":null},
  "stroke":{"field":"t","type":"nominal","scale":{"domain":["MVT","VMS","Skarn","Magmatic","Sphalerite I","Sphalerite II"],"range":["#c8960a","#b4b4b4","#b4b4b4","#b4b4b4","#000000","#000000"]},"legend":null},
  "size":{"field":"t","type":"nominal","scale":{"type":"ordinal","domain":["MVT","VMS","Skarn","Magmatic","Sphalerite I","Sphalerite II"],"range":[36,40,40,50,240,220]},"legend":null}}},
{"data":{"values":[{"x":0.81,"y":4650,"s":"Magmatic activity-related"}]},"mark":{"type":"text","font":"Liberation Serif","fontSize":20,"angle":-5,"align":"center","baseline":"middle","color":"black"},
 "encoding":{"x":{"field":"x","type":"quantitative","scale":{"type":"log","domain":[0.000001,10000],"nice":false},"axis":null},"y":{"field":"y","type":"quantitative","scale":{"type":"log","domain":[0.001,100000],"nice":false},"axis":null},"text":{"field":"s"}}},
{"data":{"values":[{"x":0.000001,"y":100000,"s":"B"}]},"mark":{"type":"text","font":"Liberation Serif","fontSize":19,"align":"left","baseline":"top","dx":5,"dy":2,"color":"black"},
 "encoding":{"x":{"field":"x","type":"quantitative","scale":{"type":"log","domain":[0.000001,10000],"nice":false},"axis":null},"y":{"field":"y","type":"quantitative","scale":{"type":"log","domain":[0.001,100000],"nice":false},"axis":null},"text":{"field":"s"}}}
]
}
]
}
